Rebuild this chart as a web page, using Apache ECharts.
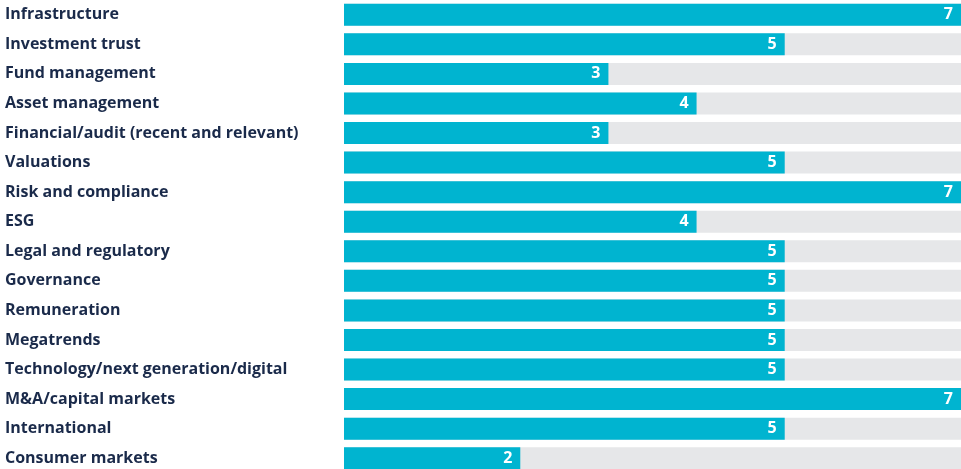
<!DOCTYPE html>
<html><head><meta charset="utf-8">
<script src="https://cdn.jsdelivr.net/npm/echarts@6/dist/echarts.min.js"></script>
<style>html,body{margin:0;padding:0;background:#fff}#c{width:961px;height:469px}</style>
</head><body><div id="c"></div>
<script>
const categories = ["Infrastructure","Investment trust","Fund management","Asset management","Financial/audit (recent and relevant)","Valuations","Risk and compliance","ESG","Legal and regulatory","Governance","Remuneration","Megatrends","Technology/next generation/digital","M&A/capital markets","International","Consumer markets"];
const values = [7,5,3,4,3,5,7,4,5,5,5,5,5,7,5,2];
const chart = echarts.init(document.getElementById('c'));
chart.setOption({
  animation:false,
  grid:{left:344,right:0,top:0,height:473,outerBoundsMode:'none',containLabel:false},
  xAxis:{type:'value',min:0,max:7,show:false},
  yAxis:{type:'category',data:categories,inverse:true,
    axisLine:{show:false},axisTick:{show:false},
    axisLabel:{align:'left',margin:339,color:'#1a2a4a',fontFamily:'Open Sans',fontWeight:'bold',fontSize:16,padding:[5,0,0,0]}},
  series:[{type:'bar',data:values,barWidth:22,
    itemStyle:{color:'#00b4d0'},
    showBackground:true,backgroundStyle:{color:'#e6e7e9'},
    label:{show:true,position:'insideRight',distance:8,color:'#fff',fontFamily:'Open Sans',fontWeight:'bold',fontSize:16}}]
});
</script></body></html>
